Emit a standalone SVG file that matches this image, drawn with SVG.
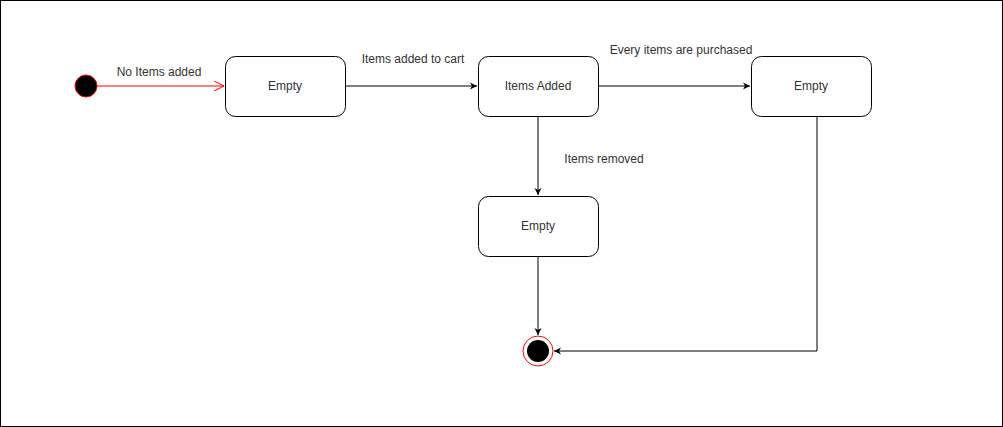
<svg xmlns="http://www.w3.org/2000/svg" width="1003" height="427" viewBox="0 0 1003 427">
<style>
.box{fill:#fff;stroke:#000;stroke-width:1}
.t{font-family:"Liberation Sans",Arial,sans-serif;font-size:12px;fill:#333;text-anchor:middle;dominant-baseline:central}
.c{fill:none;stroke:#000;stroke-width:1}
</style>
<defs>
<marker id="ah" markerWidth="8" markerHeight="8" refX="7" refY="4" orient="auto" markerUnits="userSpaceOnUse">
<path d="M0,0.5 L7,4 L0,7.5 L2,4 Z" fill="#000"/>
</marker>
<marker id="ar" markerWidth="12" markerHeight="10" refX="10" refY="5" orient="auto" markerUnits="userSpaceOnUse">
<path d="M0,0 L10,5 L0,10" fill="none" stroke="#f00" stroke-width="1"/>
</marker>
</defs>
<rect x="0.5" y="0.5" width="1002" height="426" fill="#fff" stroke="#000"/>
<g id="connectors">
<path d="M97,86 L224,86" fill="none" stroke="#f00" marker-end="url(#ar)"/>
<path class="c" d="M345,86 L477,86" marker-end="url(#ah)"/>
<path class="c" d="M598,86 L750,86" marker-end="url(#ah)"/>
<path class="c" d="M538,116 L538,195" marker-end="url(#ah)"/>
<path class="c" d="M538,256 L538,335" marker-end="url(#ah)"/>
<path class="c" d="M817,116 L817,351 L554,351" marker-end="url(#ah)"/>
<text class="t" x="159" y="72">No Items added</text>
<text class="t" x="413" y="59">Items added to cart</text>
<text class="t" x="681" y="50">Every items are purchased</text>
<text class="t" x="604" y="159">Items removed</text>
</g>
<g id="start"><circle cx="86" cy="86" r="11" fill="#000" stroke="#f00"/></g>
<g id="empty1"><rect class="box" x="225.5" y="56.5" width="120" height="60" rx="10"/><text class="t" x="285" y="86">Empty</text></g>
<g id="itemsAdded"><rect class="box" x="478.5" y="56.5" width="120" height="60" rx="10"/><text class="t" x="538" y="86">Items Added</text></g>
<g id="empty2"><rect class="box" x="751.5" y="56.5" width="120" height="60" rx="10"/><text class="t" x="811" y="86">Empty</text></g>
<g id="empty3"><rect class="box" x="478.5" y="196.5" width="120" height="60" rx="10"/><text class="t" x="538" y="226">Empty</text></g>
<g id="end"><circle cx="538" cy="351" r="15" fill="#fff" stroke="#f00"/><circle cx="538" cy="351" r="11" fill="#000"/></g>
</svg>
